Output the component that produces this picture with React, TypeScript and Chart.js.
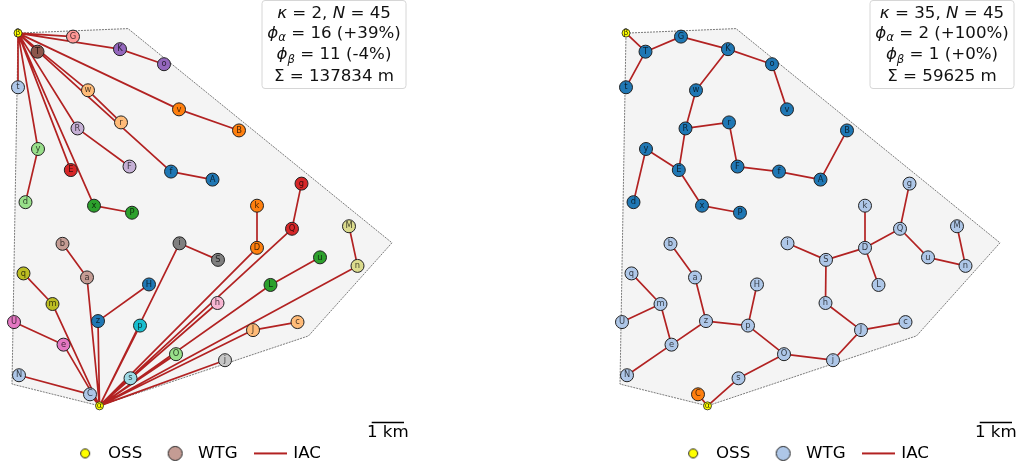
import React, { useEffect, useRef } from "react";
import { Chart, registerables } from "chart.js";

Chart.register(...registerables);

// Site geometry, in site units (33 units = 1 km), y growing downwards
const wtgLabels = ["G","K","o","T","t","w","r","v","B","R","F","y","E","f","A","d","x","P","b","a","q","m","U","H","z","p","e","O","s","N","C","i","S","h","j","D","k","g","Q","M","u","n","L","J","c"];
const wtgX = [73,120,164,37.5,18,88,121,179,239,77.5,129.5,38,70.8,171,212.5,25.5,94,132,62.5,87,23.5,52.5,14,149,98,140,63.5,176,130.5,19,90,179.5,218,217.5,225,257,257,301.5,292,349,320,357.5,270.5,253,297.5];
const wtgY = [36.5,49,64,51.5,87,90,122,109,130,128,166,148.5,169.5,171,179,201.5,205,212,243,276.5,272.5,303,321,283.5,320,324.5,343.5,353,377,374,393,242.5,259,302,359,247,205,183,228,225.5,256.5,265,284,329,321];
const ossLabels = ["β","α"];
const ossX = [18,99.5];
const ossY = [33,404.5];
const boundaryX = [18,128,392,308.5,99.5,12,18];
const boundaryY = [33,28.5,242,334.8,404.5,382.8,33];
const scaleBarX = [371.7,404];
const scaleBarY = [421,421];

// Cable layouts
const leftEdges = ["β G","β K","K o","β T","β t","β y","y d","β E","β x","x P","β R","R F","β v","v B","β w","w r","β f","f A","α C","C N","α e","e U","α m","m q","α a","a b","α z","z H","α p","α i","i S","α s","α O","α h","α D","D k","α Q","Q g","α L","L u","α J","J c","α n","n M","α j"];
const rightEdges = ["β T","T t","T G","G K","K o","o v","K w","w R","R r","r F","F f","f A","A B","R E","E y","y d","E x","x P","α C","α s","s O","O p","p H","p z","z a","a b","z e","e N","e m","m q","m U","O j","j J","J c","J h","h S","S i","S D","D k","D L","D Q","Q g","Q u","u n","n M"];

// Subtree membership per layout (tab20 palette)
const leftGroups: [string, string][] = [
  ["G","#ff9896"],["K o","#9467bd"],["T","#8c564b"],["t","#aec7e8"],["w r","#ffbb78"],["v B","#ff7f0e"],["R F","#c5b0d5"],["f A","#1f77b4"],["y d","#98df8a"],["E","#d62728"],["x P","#2ca02c"],
  ["b a","#c49c94"],["q m","#bcbd22"],["U e","#e377c2"],["H z","#1f77b4"],["p","#17becf"],["i S","#7f7f7f"],["h","#f7b6d2"],["s","#9edae5"],["O","#98df8a"],["N C","#aec7e8"],["j","#c7c7c7"],["D k","#ff7f0e"],["Q g","#d62728"],["M n","#dbdb8d"],["u L","#2ca02c"],["J c","#ffbb78"],
];
const rightGroups: [string, string][] = [
  ["T t G K o v w R r F f A B E y d x P","#1f77b4"],["C","#ff7f0e"],
  ["s O p H z a b e N m q U j J c h S i D k L Q g u n M","#aec7e8"],
];

// Annotation lines: each run is [text, style], style "i" = italic, "s" = italic subscript
type Run = [string, string?];
const leftStats: Run[][] = [
  [["κ","i"],[" = 2, "],["N","i"],[" = 45"]],
  [["ϕ","i"],["α","s"],[" = 16 (+39%)"]],
  [["ϕ","i"],["β","s"],[" = 11 (-4%)"]],
  [["Σ = 137834 m"]],
];
const rightStats: Run[][] = [
  [["κ","i"],[" = 35, "],["N","i"],[" = 45"]],
  [["ϕ","i"],["α","s"],[" = 2 (+100%)"]],
  [["ϕ","i"],["β","s"],[" = 1 (+0%)"]],
  [["Σ = 59625 m"]],
];
const legendLabels = ["OSS","WTG","IAC"];
const scaleLabel = "1 km";

const FONT = '"DejaVu Sans"';
const IAC_COLOR = "#b22222";
const CANVAS_W = 414;
const CANVAS_H = 468;

function marker(w: number, h: number, draw: (c: CanvasRenderingContext2D) => void) {
  const cv = document.createElement("canvas");
  cv.width = w;
  cv.height = h;
  draw(cv.getContext("2d") as CanvasRenderingContext2D);
  return cv;
}
function dot(fill: string, size: number) {
  return marker(size + 2, size + 2, (c) => {
    c.beginPath();
    c.arc((size + 2) / 2, (size + 2) / 2, size / 2 - 0.5, 0, Math.PI * 2);
    c.fillStyle = fill;
    c.fill();
    c.lineWidth = 1;
    c.strokeStyle = "#222";
    c.stroke();
  });
}

function drawStats(ctx: CanvasRenderingContext2D, lines: Run[][]) {
  const bx = 262, by = 0.5, bw = 144, bh = 88;
  ctx.save();
  ctx.beginPath();
  ctx.roundRect(bx, by, bw, bh, 3);
  ctx.fillStyle = "#fff";
  ctx.fill();
  ctx.lineWidth = 1;
  ctx.strokeStyle = "#d6d6d6";
  ctx.stroke();
  const base = [17.5, 37.5, 59, 80.5];
  const fontFor = (s?: string) =>
    s === "i" ? `italic 16.67px ${FONT}` : s === "s" ? `italic 11.67px ${FONT}` : `16.67px ${FONT}`;
  ctx.fillStyle = "#111";
  ctx.textBaseline = "alphabetic";
  ctx.textAlign = "left";
  lines.forEach((runs, i) => {
    let w = 0;
    runs.forEach(([t, s]) => {
      ctx.font = fontFor(s);
      w += ctx.measureText(t).width;
    });
    let x = bx + bw / 2 - w / 2;
    runs.forEach(([t, s]) => {
      ctx.font = fontFor(s);
      ctx.fillText(t, x, base[i] + (s === "s" ? 3.5 : 0));
      x += ctx.measureText(t).width;
    });
  });
  ctx.restore();
}

function buildChart(canvas: HTMLCanvasElement, edges: string[], groups: [string, string][], stats: Run[][], wtgLegend: string) {
  const pos = (k: string) => {
    const o = ossLabels.indexOf(k);
    if (o >= 0) return { x: ossX[o], y: ossY[o] };
    const i = wtgLabels.indexOf(k);
    return { x: wtgX[i], y: wtgY[i] };
  };
  const colorOf = (k: string) => (groups.find(([m]) => m.split(" ").includes(k)) as [string, string])[1];

  const labelsPlugin = {
    id: "siteText",
    afterDatasetsDraw(chart: any) {
      const ctx: CanvasRenderingContext2D = chart.ctx;
      ctx.save();
      ctx.textAlign = "center";
      ctx.textBaseline = "middle";
      ctx.fillStyle = "rgba(0,0,0,0.72)";
      ctx.font = `8.33px ${FONT}`;
      chart.getDatasetMeta(1).data.forEach((el: any, i: number) => ctx.fillText(wtgLabels[i], el.x, el.y));
      chart.getDatasetMeta(0).data.forEach((el: any, i: number) => ctx.fillText(ossLabels[i], el.x, el.y));
      const bar = chart.getDatasetMeta(4).data;
      ctx.fillStyle = "#000";
      ctx.font = `16.67px ${FONT}`;
      ctx.fillText(scaleLabel, (bar[0].x + bar[1].x) / 2, bar[0].y + 10.5);
      ctx.restore();
      drawStats(ctx, stats);
    },
  };

  const handles = [
    dot("#ffff00", 10),
    dot(wtgLegend, 15),
    marker(33, 4, (c) => {
      c.fillStyle = IAC_COLOR;
      c.fillRect(0, 1, 33, 2);
    }),
  ];

  return new Chart(canvas, {
    type: "scatter",
    data: {
      datasets: [
        {
          label: "OSS",
          data: ossLabels.map(pos),
          pointRadius: 4,
          pointBackgroundColor: "#ffff00",
          pointBorderColor: "#222",
          pointBorderWidth: 0.8,
          clip: false,
        },
        {
          label: "WTG",
          data: wtgLabels.map(pos),
          pointRadius: 6.5,
          pointBackgroundColor: wtgLabels.map(colorOf),
          pointBorderColor: "#222",
          pointBorderWidth: 1,
          clip: false,
        },
        {
          label: "IAC",
          data: edges.flatMap((e) => {
            const [a, b] = e.split(" ");
            return [pos(a), pos(b), { x: NaN, y: NaN }];
          }),
          showLine: true,
          pointRadius: 0,
          borderColor: IAC_COLOR,
          borderWidth: 1.7,
          clip: false,
        },
        {
          label: "boundary",
          data: boundaryX.map((x, i) => ({ x, y: boundaryY[i] })),
          showLine: true,
          pointRadius: 0,
          borderColor: "#444",
          borderWidth: 0.7,
          borderDash: [2, 1],
          fill: "shape",
          backgroundColor: "#f4f4f4",
          clip: false,
        },
        {
          label: "scale",
          data: scaleBarX.map((x, i) => ({ x, y: scaleBarY[i] })),
          showLine: true,
          pointRadius: 0,
          borderColor: "#000",
          borderWidth: 1.5,
          clip: false,
        },
      ],
    } as any,
    options: {
      responsive: false,
      animation: false,
      events: [],
      layout: { autoPadding: false, padding: { left: 0, top: 0, right: 22.4, bottom: -3.77 } },
      scales: {
        x: { type: "linear", display: false, min: 0, max: 391.6 },
        y: { type: "linear", display: false, min: 0, max: 425.27, reverse: true },
      },
      plugins: {
        tooltip: { enabled: false },
        title: { display: false },
        legend: {
          display: true,
          position: "bottom",
          align: "center",
          labels: {
            usePointStyle: true,
            pointStyleWidth: 29,
            padding: 18.4,
            color: "#000",
            font: { family: FONT, size: 16.67 },
            generateLabels: () =>
              legendLabels.map((text, i) => ({
                text,
                datasetIndex: i,
                pointStyle: handles[i],
                fillStyle: "transparent",
                strokeStyle: "transparent",
                lineWidth: 0,
                hidden: false,
              })),
          },
        },
      },
    } as any,
    plugins: [labelsPlugin as any],
  });
}

export default function App() {
  const leftRef = useRef<HTMLCanvasElement>(null);
  const rightRef = useRef<HTMLCanvasElement>(null);
  useEffect(() => {
    const a = buildChart(leftRef.current as HTMLCanvasElement, leftEdges, leftGroups, leftStats, "#c49c94");
    const b = buildChart(rightRef.current as HTMLCanvasElement, rightEdges, rightGroups, rightStats, "#aec7e8");
    return () => {
      a.destroy();
      b.destroy();
    };
  }, []);
  return (
    <div style={{ position: "fixed", left: 0, top: 0, width: 1022, height: 468, background: "#fff", overflow: "hidden" }}>
      <canvas ref={leftRef} width={CANVAS_W} height={CANVAS_H} style={{ position: "absolute", left: 0, top: 0 }} />
      <canvas ref={rightRef} width={CANVAS_W} height={CANVAS_H} style={{ position: "absolute", left: 608, top: 0 }} />
    </div>
  );
}
